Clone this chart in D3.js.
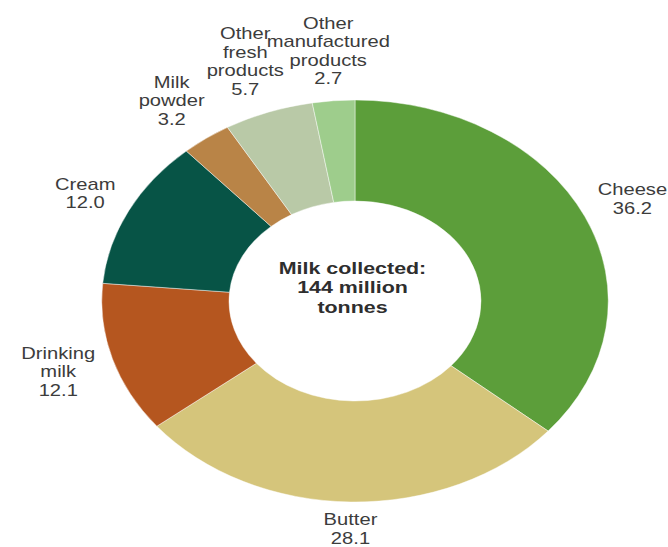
<!DOCTYPE html>
<html>
<head>
<meta charset="utf-8">
<script src="https://cdn.jsdelivr.net/npm/d3@7"></script>
<style>
  body { margin: 0; background: #fff; }
  text { font-family: "Liberation Sans", Arial, sans-serif; }
</style>
</head>
<body>
<svg></svg>
<script>
// milk use, share of milk collected (%)
var categories = ["Cheese", "Butter", "Drinking\nmilk", "Cream", "Milk\npowder", "Other\nfresh\nproducts", "Other\nmanufactured\nproducts"]
var values = [36.2, 28.1, 12.1, 12.0, 3.2, 5.7, 2.7]
var colors = ["#5c9e3a", "#d5c57b", "#b5561f", "#075446", "#b98447", "#b9c9a7", "#9ecd8c"]
var centerLines = ["Milk collected:", "144 million", "tonnes"]

var width = 668
var height = 547

var svg = d3.select('svg')
svg.attr('width', width).attr('height', height)

// the picture is a round donut stretched sideways
var stretch = 1.26
var outerR = 201
var innerR = 100
var labelGap = 9

var g = svg.append('g')
  .attr('transform', 'translate(355,301) scale(' + stretch + ',1)')

var data = values.map(function (v, i) {
  return { name: categories[i], value: v, color: colors[i] }
})

var pie = d3.pie()
  .sort(null)
  .value(function (d) { return d.value })

var arc = d3.arc()
  .innerRadius(innerR)
  .outerRadius(outerR)

var arcs = pie(data)

g.append('g')
  .selectAll('path')
  .data(arcs)
  .enter().append('path')
    .attr('d', arc)
    .attr('fill', function (d) { return d.data.color })
    .attr('stroke', '#fff')
    .attr('stroke-width', 0.4)

/* outside labels: name lines then value */
var labels = g.append('g')
  .selectAll('text')
  .data(arcs)
  .enter().append('text')
    .attr('font-size', 16)
    .attr('fill', '#3c3c3c')
    .attr('text-anchor', 'middle')

labels.each(function (d) {
  var t = d3.select(this)
  var lines = d.data.name.split('\n').concat([d3.format('.1f')(d.data.value)])
  lines.forEach(function (line, i) {
    t.append('tspan')
      .attr('x', 0)
      .attr('dy', i === 0 ? 0 : 18.5)
      .text(line)
  })
})

// push each label box out along its mid angle until it clears the ring
labels.attr('transform', function (d) {
  var box = this.getBBox()
  var a = (d.startAngle + d.endAngle) / 2
  var ux = Math.sin(a)
  var uy = -Math.cos(a)
  var dist = outerR + labelGap + box.width / 2 * Math.abs(ux) + box.height / 2 * Math.abs(uy)
  var cx = ux * dist
  var cy = uy * dist
  var bx = box.x + box.width / 2
  var by = box.y + box.height / 2
  return 'translate(' + (cx - bx) + ',' + (cy - by) + ')'
})

/* text in the hole */
var centerText = g.append('text')
  .attr('font-size', 17)
  .attr('font-weight', 'bold')
  .attr('fill', '#2e2e2e')
  .attr('text-anchor', 'middle')
  .attr('y', -14 - 19.5 + 6)

centerLines.forEach(function (line, i) {
  centerText.append('tspan')
    .attr('x', -2)
    .attr('dy', i === 0 ? 0 : 19.5)
    .text(line)
})
</script>
</body>
</html>
